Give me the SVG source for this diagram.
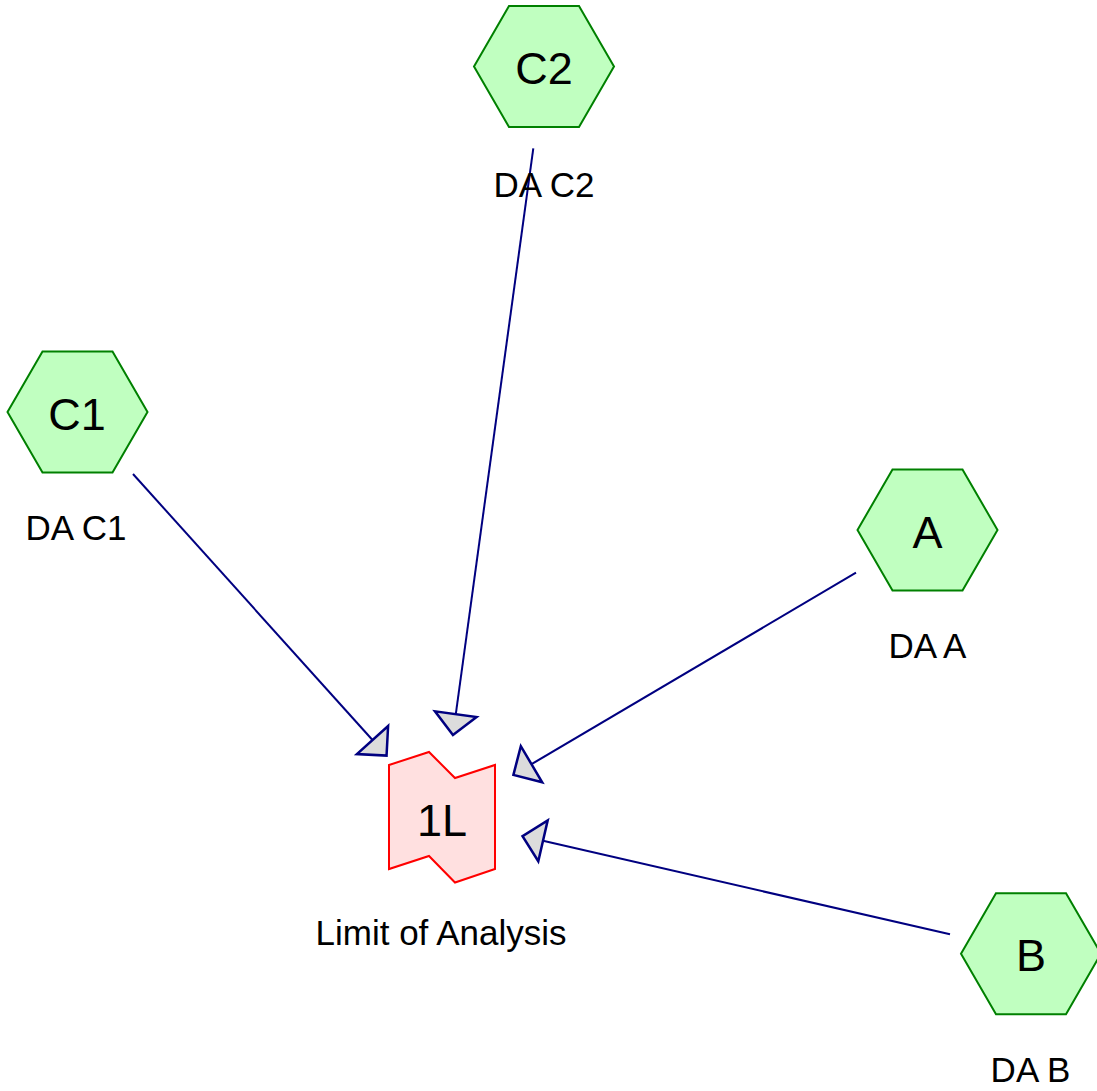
<svg xmlns="http://www.w3.org/2000/svg" width="1097" height="1091" viewBox="0 0 1097 1091">
<style>
.hex{fill:#c0ffc0;stroke:#008000;stroke-width:2}
.lim{fill:#ffe0e0;stroke:#ff0000;stroke-width:2}
.big{font-family:"Liberation Sans",Arial,sans-serif;font-size:45px;text-anchor:middle;fill:#000}
.sub{font-family:"Liberation Sans",Arial,sans-serif;font-size:35px;text-anchor:middle;fill:#000}
.edge{stroke:#000080;stroke-width:2;fill:none;marker-end:url(#tri)}
</style>
<defs>
<marker id="tri" markerUnits="userSpaceOnUse" markerWidth="30" markerHeight="50" viewBox="-3 -25 30 50" refX="0" refY="0" orient="auto">
<path d="M0,-21 L21,0 L0,21 Z" fill="#dcdcdc" stroke="#000080" stroke-width="2.5" stroke-linejoin="miter"/>
</marker>
</defs>
<g id="connectors">
<line class="edge" x1="133" y1="474" x2="372.5" y2="740"/>
<line class="edge" x1="533.3" y1="148.3" x2="455.8" y2="714.2"/>
<line class="edge" x1="856" y1="572.7" x2="531.5" y2="764.2"/>
<line class="edge" x1="950" y1="934.3" x2="543" y2="840.8"/>
</g>
<g id="node-C2">
<polygon class="hex" points="474,66.5 509,6 579,6 614,66.5 579,127 509,127"/>
<text class="big" x="544" y="84">C2</text>
<text class="sub" x="544" y="196.5">DA C2</text>
</g>
<g id="node-C1">
<polygon class="hex" points="7.5,412 42.5,351.5 112.5,351.5 147.5,412 112.5,472.5 42.5,472.5"/>
<text class="big" x="77" y="430">C1</text>
<text class="sub" x="76" y="540">DA C1</text>
</g>
<g id="node-A">
<polygon class="hex" points="857.5,530 892.5,469.5 962.5,469.5 997.5,530 962.5,590.5 892.5,590.5"/>
<text class="big" x="927.5" y="548">A</text>
<text class="sub" x="927.5" y="658.3">DA A</text>
</g>
<g id="node-B">
<polygon class="hex" points="961,953.7 996,893.2 1066,893.2 1101,953.7 1066,1014.2 996,1014.2"/>
<text class="big" x="1031" y="971">B</text>
<text class="sub" x="1030.5" y="1081.7">DA B</text>
</g>
<g id="node-1L">
<polygon class="lim" points="389,765 429,752 455,778 495,765 495,869 455,882.5 429,856 389,869"/>
<text class="big" x="442" y="836">1L</text>
<text class="sub" x="441" y="945">Limit of Analysis</text>
</g>
</svg>
